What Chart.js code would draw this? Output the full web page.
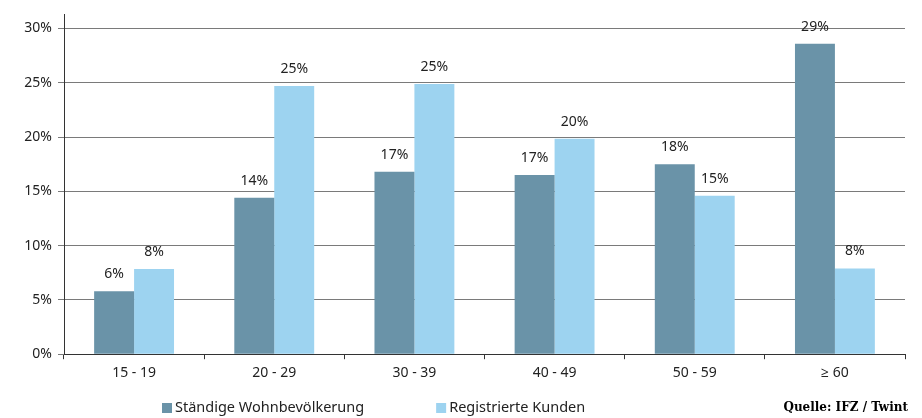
<!DOCTYPE html>
<html>
<head>
<meta charset="utf-8">
<script src="https://cdn.jsdelivr.net/npm/chart.js@4"></script>
<style>
  body { margin: 0; background: #fff; }
  #wrap { position: relative; width: 922px; height: 418px; }
  #source {
    position: absolute; right: 14px; bottom: 4px;
    font: bold 12px "DejaVu Serif", "Liberation Serif", serif; color: #000;
  }
</style>
</head>
<body>
<div id="wrap">
  <canvas id="chart" width="922" height="418"></canvas>
  <div id="source">Quelle: IFZ / Twint</div>
</div>
<script>
// categories and series
const ageGroups = ["15 - 19", "20 - 29", "30 - 39", "40 - 49", "50 - 59", "\u2265 60"];
const population = [5.8, 14.4, 16.8, 16.5, 17.5, 28.6];
const customers = [7.85, 24.7, 24.9, 19.85, 14.6, 7.9];
const seriesNames = ["Ständige Wohnbevölkerung", "Registrierte Kunden"];
const seriesColors = ["#6a93a8", "#9dd3f0"];

const fontFamily = '"Noto Sans", "Open Sans", sans-serif';
const font = { family: fontFamily, size: 14 };

// value labels above each bar
const valueLabels = {
  id: "valueLabels",
  afterDatasetsDraw(chart) {
    const ctx = chart.ctx;
    ctx.save();
    ctx.font = "14px " + fontFamily;
    ctx.fillStyle = "#222";
    ctx.textAlign = "center";
    ctx.textBaseline = "alphabetic";
    chart.data.datasets.forEach((ds, i) => {
      chart.getDatasetMeta(i).data.forEach((bar, j) => {
        ctx.fillText(Math.round(ds.data[j]) + "%", bar.x, bar.y - 13);
      });
    });
    ctx.restore();
  }
};

// legend drawn under the axis, with a wide gap between the two items
const bottomLegend = {
  id: "bottomLegend",
  afterDraw(chart) {
    const ctx = chart.ctx;
    ctx.save();
    ctx.font = "14.5px " + fontFamily;
    ctx.textBaseline = "middle";
    const box = 10, gap = 3, between = 72;
    const widths = seriesNames.map(n => box + gap + ctx.measureText(n).width);
    let x = 162;
    const y = 408;
    seriesNames.forEach((name, i) => {
      ctx.fillStyle = seriesColors[i];
      ctx.fillRect(x, y - box / 2, box, box);
      ctx.fillStyle = "#222";
      ctx.fillText(name, x + box + gap, y);
      x += widths[i] + between;
    });
    ctx.restore();
  }
};

new Chart(document.getElementById("chart"), {
  type: "bar",
  data: {
    labels: ageGroups,
    datasets: seriesNames.map((name, i) => ({
      label: name,
      data: i === 0 ? population : customers,
      backgroundColor: seriesColors[i],
      barPercentage: 1,
      categoryPercentage: 0.57
    }))
  },
  options: {
    responsive: false,
    animation: false,
    layout: { padding: { left: 0, right: 17, top: 1, bottom: 32 } },
    plugins: {
      tooltip: { enabled: false },
      legend: { display: false }
    },
    scales: {
      x: {
        grid: { drawOnChartArea: false, drawTicks: true, tickLength: 5, color: "#333", offset: true },
        border: { color: "#333", width: 1 },
        ticks: { font: font, color: "#222", padding: 5 }
      },
      y: {
        min: 0, max: 31.3,
        afterFit(scale) { scale.width = 64; },
        grid: { color: "#7a7a7a", tickLength: 6, drawTicks: true },
        border: { color: "#333", width: 1 },
        ticks: {
          stepSize: 5, includeBounds: false, font: font, color: "#222", padding: 6,
          callback: v => v + "%"
        }
      }
    }
  },
  plugins: [valueLabels, bottomLegend]
});
</script>
</body>
</html>
